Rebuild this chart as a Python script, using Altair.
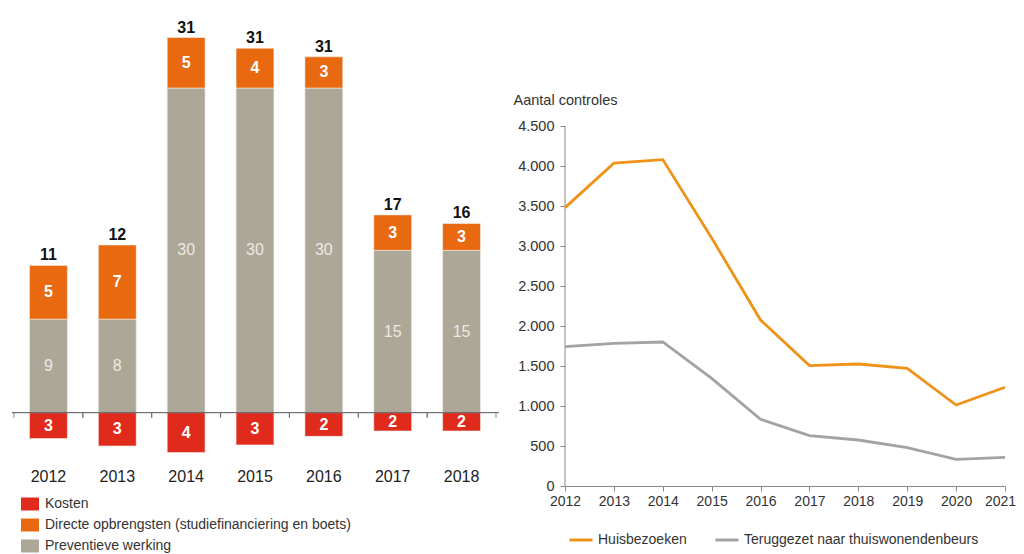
import altair as alt
import pandas as pd

# ---------------- data: left chart (bars) ----------------
bar_years = ["2012", "2013", "2014", "2015", "2016", "2017", "2018"]
preventieve = [8.7, 8.7, 30.2, 30.2, 30.2, 15.1, 15.1]
directe = [5.0, 6.9, 4.7, 3.7, 2.9, 3.3, 2.5]
kosten = [2.4, 3.1, 3.7, 3.0, 2.2, 1.7, 1.7]
preventieve_lbl = [9, 8, 30, 30, 30, 15, 15]
directe_lbl = [5, 7, 5, 4, 3, 3, 3]
kosten_lbl = [3, 3, 4, 3, 2, 2, 2]
totaal_lbl = [11, 12, 31, 31, 31, 17, 16]

series_bar = ["Kosten", "Directe opbrengsten (studiefinanciering en boets)", "Preventieve werking"]
colors_bar = ["#df2a1c", "#e8690f", "#aca796"]

# ---------------- data: right chart (lines) ----------------
line_years = [2012, 2013, 2014, 2015, 2016, 2017, 2018, 2019, 2020, 2021]
huisbezoeken = [3480, 4035, 4080, 3100, 2075, 1505, 1525, 1470, 1012, 1235]
teruggezet = [1742, 1783, 1800, 1346, 833, 629, 575, 480, 333, 358]
series_line = ["Huisbezoeken", "Teruggezet naar thuiswonendenbeurs"]
colors_line = ["#ef9318", "#a3a3a3"]
y_ticks = [0, 500, 1000, 1500, 2000, 2500, 3000, 3500, 4000, 4500]

# ---------------- tables ----------------
rows = []
for i, yr in enumerate(bar_years):
    p, d, k = preventieve[i], directe[i], kosten[i]
    rows.append(dict(year=yr, serie=series_bar[2], y0=0.0, y1=p, lbl=preventieve_lbl[i]))
    rows.append(dict(year=yr, serie=series_bar[1], y0=p, y1=p + d, lbl=directe_lbl[i]))
    rows.append(dict(year=yr, serie=series_bar[0], y0=-k, y1=0.0, lbl=kosten_lbl[i]))
bars_df = pd.DataFrame(rows)
bars_df["mid"] = (bars_df["y0"] + bars_df["y1"]) / 2
tot_df = pd.DataFrame({
    "year": bar_years,
    "top": [preventieve[i] + directe[i] for i in range(len(bar_years))],
    "lbl": totaal_lbl,
})
zero_df = pd.DataFrame({"z": [0.0]})

line_df = pd.DataFrame({
    "year": line_years * 2,
    "serie": [series_line[0]] * len(line_years) + [series_line[1]] * len(line_years),
    "value": huisbezoeken + teruggezet,
})
axis_df = pd.DataFrame({"a": [y_ticks[0]], "b": [y_ticks[-1]]})

# ---------------- left chart ----------------
LW, H = 482, 473
yscale_l = alt.Scale(domain=[-6.82, 37.18], nice=False, zero=False)
xenc_l = alt.X(
    "year:N",
    sort=bar_years,
    scale=alt.Scale(paddingInner=0.45, paddingOuter=0.225),
    axis=alt.Axis(title=None, labelAngle=0, domain=False, ticks=False, tickSize=0,
                  offset=-18, labelPadding=0, labelFontSize=16, labelColor="#222"),
)

bars = alt.Chart(bars_df).mark_bar(stroke="#f2eee8", strokeWidth=0.6).encode(
    x=xenc_l,
    y=alt.Y("y1:Q", scale=yscale_l, axis=None),
    y2="y0:Q",
    color=alt.Color(
        "serie:N",
        scale=alt.Scale(domain=series_bar, range=colors_bar),
        legend=alt.Legend(
            title=None, orient="none", legendX=7, legendY=482, direction="vertical",
            symbolType="M-1,-0.72H1V0.72H-1Z", symbolSize=324, symbolStrokeWidth=0,
            labelFontSize=14, labelColor="#333", rowPadding=5, labelOffset=6, padding=0,
            labelLimit=0,
        ),
    ),
)

lbl_white = alt.Chart(bars_df).transform_filter(
    alt.datum.serie != series_bar[2]
).mark_text(color="white", fontWeight="bold", fontSize=16, baseline="middle").encode(
    x=xenc_l, y=alt.Y("mid:Q", scale=yscale_l, axis=None), text="lbl:Q"
)
lbl_grey = alt.Chart(bars_df).transform_filter(
    alt.datum.serie == series_bar[2]
).mark_text(color="#ece9e2", fontSize=16, baseline="middle").encode(
    x=xenc_l, y=alt.Y("mid:Q", scale=yscale_l, axis=None), text="lbl:Q"
)
totals = alt.Chart(tot_df).mark_text(
    color="#111", fontWeight="bold", fontSize=16, baseline="alphabetic", dy=-5
).encode(x=xenc_l, y=alt.Y("top:Q", scale=yscale_l, axis=None), text="lbl:Q")

zero_line = alt.Chart(zero_df).mark_rule(color="#555", strokeWidth=1).encode(
    y=alt.Y("z:Q", scale=yscale_l, axis=None), x=alt.value(-2), x2=alt.value(LW + 3)
)
half = LW / 7 / 2
tick_df = pd.DataFrame({"year": bar_years, "z": [0.0] * len(bar_years)})
ticks_a = alt.Chart(tick_df).mark_tick(
    orient="vertical", size=5, thickness=1, color="#555", xOffset=-half, yOffset=2.5
).encode(x=xenc_l, y=alt.Y("z:Q", scale=yscale_l, axis=None))
ticks_b = alt.Chart(tick_df).mark_tick(
    orient="vertical", size=5, thickness=1, color="#555", xOffset=half, yOffset=2.5
).encode(x=xenc_l, y=alt.Y("z:Q", scale=yscale_l, axis=None))

left = alt.layer(bars, lbl_grey, lbl_white, totals, zero_line, ticks_a, ticks_b).properties(
    width=LW, height=H
)

# ---------------- right chart ----------------
RW = 440
yscale_r = alt.Scale(domain=[0, 4500 * H / 360], nice=False, zero=True)
xscale_r = alt.Scale(domain=[2012, 2021], nice=False, zero=False)

lines = alt.Chart(line_df).mark_line(strokeWidth=2.8).encode(
    x=alt.X("year:Q", scale=xscale_r,
            axis=alt.Axis(title=None, values=line_years, format="d", grid=False,
                          domainColor="#888", tickColor="#888", tickSize=5,
                          labelFlush=False, labelOverlap=False,
                          labelOffset={"condition": {"test": "datum.value == 2021", "value": -5},
                                       "value": 0},
                          labelFontSize=14, labelColor="#333", labelPadding=3)),
    y=alt.Y("value:Q", scale=yscale_r,
            axis=alt.Axis(title="Aantal controles", values=y_ticks, grid=False, domain=False,
                          labelExpr="replace(format(datum.value, ','), ',', '.')",
                          tickColor="#888", tickSize=5, labelFontSize=14.5, labelColor="#333",
                          labelPadding=6, titleAngle=0, titleX=-52, titleY=87,
                          titleAlign="left", titleBaseline="middle", titleFontSize=14.5,
                          titleFontWeight="normal", titleColor="#333")),
    color=alt.Color(
        "serie:N",
        scale=alt.Scale(domain=series_line, range=colors_line),
        legend=alt.Legend(title=None, orient="none", legendX=3, legendY=514,
                          direction="horizontal", symbolType="stroke", symbolSize=529,
                          symbolStrokeWidth=3, labelFontSize=14, labelColor="#333",
                          columnPadding=22, labelOffset=4, padding=0, labelLimit=0),
    ),
)
yaxis_line = alt.Chart(axis_df).mark_rule(color="#888", strokeWidth=1).encode(
    x=alt.value(0), y=alt.Y("a:Q", scale=yscale_r), y2="b:Q"
)

right = alt.layer(yaxis_line, lines).properties(width=RW, height=H)

chart = alt.hconcat(left, right, spacing=13).properties(
    padding={"left": 3, "top": 5, "right": 0, "bottom": 0}
).configure(font="Liberation Sans").configure_view(stroke=None).resolve_scale(color="independent")

chart.save("out.html", embed_options={"renderer": "svg", "actions": False})
